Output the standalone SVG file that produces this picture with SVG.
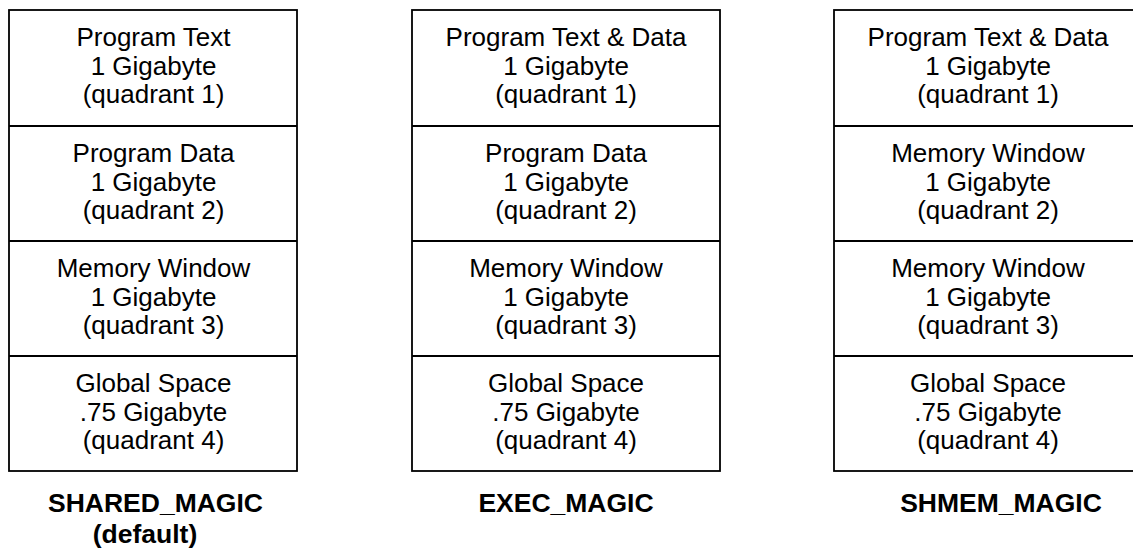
<svg xmlns="http://www.w3.org/2000/svg" width="1133" height="550" viewBox="0 0 1133 550">
<style>
.box{fill:#fff;stroke:#000;stroke-width:1.8}
.div{stroke:#000;stroke-width:1.8}
.t{font-family:"Liberation Sans",Arial,sans-serif;font-size:26px;text-anchor:middle;fill:#000}
.lbl{font-family:"Liberation Sans",Arial,sans-serif;font-size:26.5px;font-weight:bold;text-anchor:middle;fill:#000}
</style>
<rect width="1133" height="550" fill="#fff"/>
<g id="shared">
<rect class="box" x="9" y="10" width="288" height="461"/>
<line class="div" x1="9" y1="126" x2="297" y2="126"/>
<line class="div" x1="9" y1="241" x2="297" y2="241"/>
<line class="div" x1="9" y1="356" x2="297" y2="356"/>
<text class="t" x="153.5" y="46">Program Text</text>
<text class="t" x="153.5" y="74.5">1 Gigabyte</text>
<text class="t" x="153.5" y="103">(quadrant 1)</text>
<text class="t" x="153.5" y="162">Program Data</text>
<text class="t" x="153.5" y="190.5">1 Gigabyte</text>
<text class="t" x="153.5" y="219">(quadrant 2)</text>
<text class="t" x="153.5" y="277">Memory Window</text>
<text class="t" x="153.5" y="305.5">1 Gigabyte</text>
<text class="t" x="153.5" y="334">(quadrant 3)</text>
<text class="t" x="153.5" y="391.5">Global Space</text>
<text class="t" x="153.5" y="420.5">.75 Gigabyte</text>
<text class="t" x="153.5" y="449">(quadrant 4)</text>
<text class="lbl" x="155.5" y="512">SHARED_MAGIC</text>
<text class="lbl" x="145" y="543">(default)</text>
</g>
<g id="exec">
<rect class="box" x="412" y="10" width="308" height="461"/>
<line class="div" x1="412" y1="126" x2="720" y2="126"/>
<line class="div" x1="412" y1="241" x2="720" y2="241"/>
<line class="div" x1="412" y1="356" x2="720" y2="356"/>
<text class="t" x="566" y="46">Program Text &amp; Data</text>
<text class="t" x="566" y="74.5">1 Gigabyte</text>
<text class="t" x="566" y="103">(quadrant 1)</text>
<text class="t" x="566" y="162">Program Data</text>
<text class="t" x="566" y="190.5">1 Gigabyte</text>
<text class="t" x="566" y="219">(quadrant 2)</text>
<text class="t" x="566" y="277">Memory Window</text>
<text class="t" x="566" y="305.5">1 Gigabyte</text>
<text class="t" x="566" y="334">(quadrant 3)</text>
<text class="t" x="566" y="391.5">Global Space</text>
<text class="t" x="566" y="420.5">.75 Gigabyte</text>
<text class="t" x="566" y="449">(quadrant 4)</text>
<text class="lbl" x="566" y="512">EXEC_MAGIC</text>
</g>
<g id="shmem">
<rect class="box" x="834" y="10" width="308" height="461"/>
<line class="div" x1="834" y1="126" x2="1142" y2="126"/>
<line class="div" x1="834" y1="241" x2="1142" y2="241"/>
<line class="div" x1="834" y1="356" x2="1142" y2="356"/>
<text class="t" x="988" y="46">Program Text &amp; Data</text>
<text class="t" x="988" y="74.5">1 Gigabyte</text>
<text class="t" x="988" y="103">(quadrant 1)</text>
<text class="t" x="988" y="162">Memory Window</text>
<text class="t" x="988" y="190.5">1 Gigabyte</text>
<text class="t" x="988" y="219">(quadrant 2)</text>
<text class="t" x="988" y="277">Memory Window</text>
<text class="t" x="988" y="305.5">1 Gigabyte</text>
<text class="t" x="988" y="334">(quadrant 3)</text>
<text class="t" x="988" y="391.5">Global Space</text>
<text class="t" x="988" y="420.5">.75 Gigabyte</text>
<text class="t" x="988" y="449">(quadrant 4)</text>
<text class="lbl" x="1001" y="512">SHMEM_MAGIC</text>
</g>
<g id="connectors"/>
</svg>
